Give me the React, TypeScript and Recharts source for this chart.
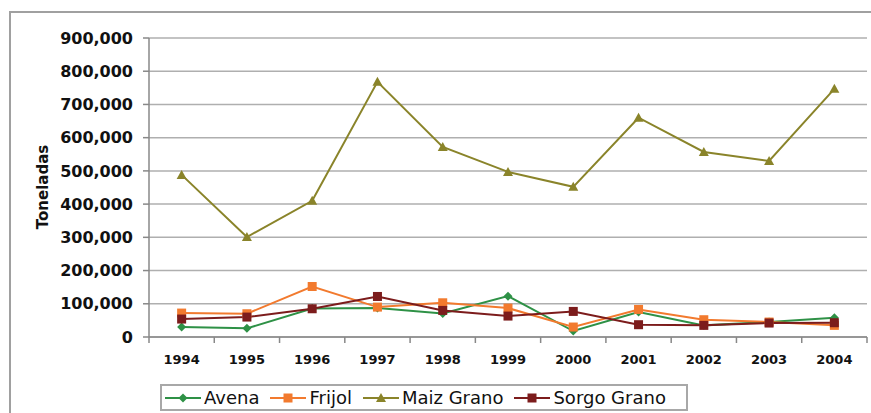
import React from "react";
import { LineChart, Line, XAxis, YAxis, CartesianGrid, Legend } from "recharts";

const years = ["1994", "1995", "1996", "1997", "1998", "1999", "2000", "2001", "2002", "2003", "2004"];
const avena = [30000, 26000, 86000, 87000, 71000, 123000, 18000, 75000, 35000, 45000, 58000];
const frijol = [72000, 70000, 152000, 90000, 103000, 87000, 30000, 83000, 52000, 45000, 35000];
const maiz = [488000, 301000, 410000, 768000, 572000, 497000, 452000, 660000, 557000, 530000, 747000];
const sorgo = [54000, 60000, 85000, 122000, 80000, 63000, 77000, 37000, 35000, 42000, 43000];
const yTicks = [0, 100000, 200000, 300000, 400000, 500000, 600000, 700000, 800000, 900000];

const series = [
  { key: "avena", name: "Avena", color: "#2e9146", shape: "diamond" },
  { key: "frijol", name: "Frijol", color: "#f27a2e", shape: "square" },
  { key: "maiz", name: "Maiz Grano", color: "#8a842a", shape: "triangle" },
  { key: "sorgo", name: "Sorgo Grano", color: "#7c1c1c", shape: "square" },
];

const data = years.map((y, i) => ({
  year: y,
  avena: avena[i],
  frijol: frijol[i],
  maiz: maiz[i],
  sorgo: sorgo[i],
}));

const W = 871;
const H = 413;
const PLOT_LEFT = 149;
const PLOT_RIGHT = 867;
const HALF_BAND = (PLOT_RIGHT - PLOT_LEFT) / years.length / 2;
const FONT = "'DejaVu Sans', sans-serif";

function Marker({ shape, cx, cy, color }: { shape: string; cx: number; cy: number; color: string }) {
  if (shape === "diamond") {
    return <polygon points={`${cx},${cy - 4.5} ${cx + 4.5},${cy} ${cx},${cy + 4.5} ${cx - 4.5},${cy}`} fill={color} />;
  }
  if (shape === "triangle") {
    return <polygon points={`${cx},${cy - 5} ${cx + 5},${cy + 4} ${cx - 5},${cy + 4}`} fill={color} />;
  }
  return <rect x={cx - 4.5} y={cy - 4.5} width={9} height={9} fill={color} />;
}

function XTick(props: any) {
  const { x, y, payload, index } = props;
  const last = index === years.length - 1;
  return (
    <g>
      <line x1={x - HALF_BAND} x2={x - HALF_BAND} y1={y} y2={y + 6} stroke="#888" strokeWidth={1.5} />
      {last && <line x1={x + HALF_BAND} x2={x + HALF_BAND} y1={y} y2={y + 6} stroke="#888" strokeWidth={1.5} />}
      <text x={x} y={y + 27} textAnchor="middle" fontFamily={FONT} fontWeight="bold" fontSize={13} fill="#111">
        {payload.value}
      </text>
    </g>
  );
}

function LegendBox() {
  return (
    <div
      style={{
        boxSizing: "border-box",
        width: 528,
        height: 27,
        border: "2px solid #a8a8a8",
        background: "#fff",
        display: "flex",
        alignItems: "center",
        paddingLeft: 3,
        fontFamily: FONT,
        fontSize: 18,
        color: "#111",
      }}
    >
      {series.map((s) => (
        <div key={s.key} style={{ display: "flex", alignItems: "center", marginRight: 11 }}>
          <svg width={36} height={14}>
            <line x1={0} x2={36} y1={7} y2={7} stroke={s.color} strokeWidth={2} />
            <Marker shape={s.shape} cx={18} cy={7} color={s.color} />
          </svg>
          <span style={{ marginLeft: 3 }}>{s.name}</span>
        </div>
      ))}
    </div>
  );
}

export default function App() {
  return (
    <div style={{ position: "absolute", left: 0, top: 0, width: W, height: H, background: "#fff", overflow: "hidden" }}>
      <div
        style={{
          position: "absolute",
          left: 9,
          top: 11,
          width: W,
          height: H,
          borderLeft: "2px solid #a0a0a0",
          borderTop: "2px solid #a0a0a0",
        }}
      />
      <div style={{ position: "absolute", left: 0, top: 0 }}>
        <LineChart width={W} height={H} data={data} margin={{ top: 38, right: W - PLOT_RIGHT, bottom: 46, left: 0 }}>
          <CartesianGrid vertical={false} stroke="#afafaf" strokeWidth={1.5} />
          <XAxis
            dataKey="year"
            height={30}
            tickLine={false}
            tickSize={0}
            tickMargin={0}
            padding={{ left: HALF_BAND, right: HALF_BAND }}
            axisLine={{ stroke: "#888", strokeWidth: 1.5 }}
            tick={(p: any) => <XTick {...p} />}
            interval={0}
          />
          <YAxis
            width={PLOT_LEFT}
            domain={[0, 900000]}
            ticks={yTicks}
            interval={0}
            tickFormatter={(v: number) => v.toLocaleString("en-US")}
            tick={{ fontFamily: FONT, fontWeight: "bold", fontSize: 16, fill: "#111" }}
            tickSize={6}
            tickMargin={10}
            tickLine={{ stroke: "#888", strokeWidth: 1.5 }}
            axisLine={{ stroke: "#888", strokeWidth: 1.5 }}
            label={{
              content: () => (
                <text
                  x={48}
                  y={187}
                  transform="rotate(-90 48 187)"
                  textAnchor="middle"
                  fontFamily={FONT}
                  fontWeight="bold"
                  fontSize={15}
                  fill="#111"
                >
                  Toneladas
                </text>
              ),
            }}
          />
          {series.map((s) => (
            <Line
              key={s.key}
              dataKey={s.key}
              name={s.name}
              type="linear"
              stroke={s.color}
              strokeWidth={2}
              isAnimationActive={false}
              dot={(p: any) => <Marker key={`${s.key}-${p.index}`} shape={s.shape} cx={p.cx} cy={p.cy} color={s.color} />}
              activeDot={false}
            />
          ))}
          <Legend
            layout="horizontal"
            verticalAlign="middle"
            align="center"
            wrapperStyle={{ left: 160, top: 384, width: 528, height: 27 }}
            content={() => <LegendBox />}
          />
        </LineChart>
      </div>
    </div>
  );
}
